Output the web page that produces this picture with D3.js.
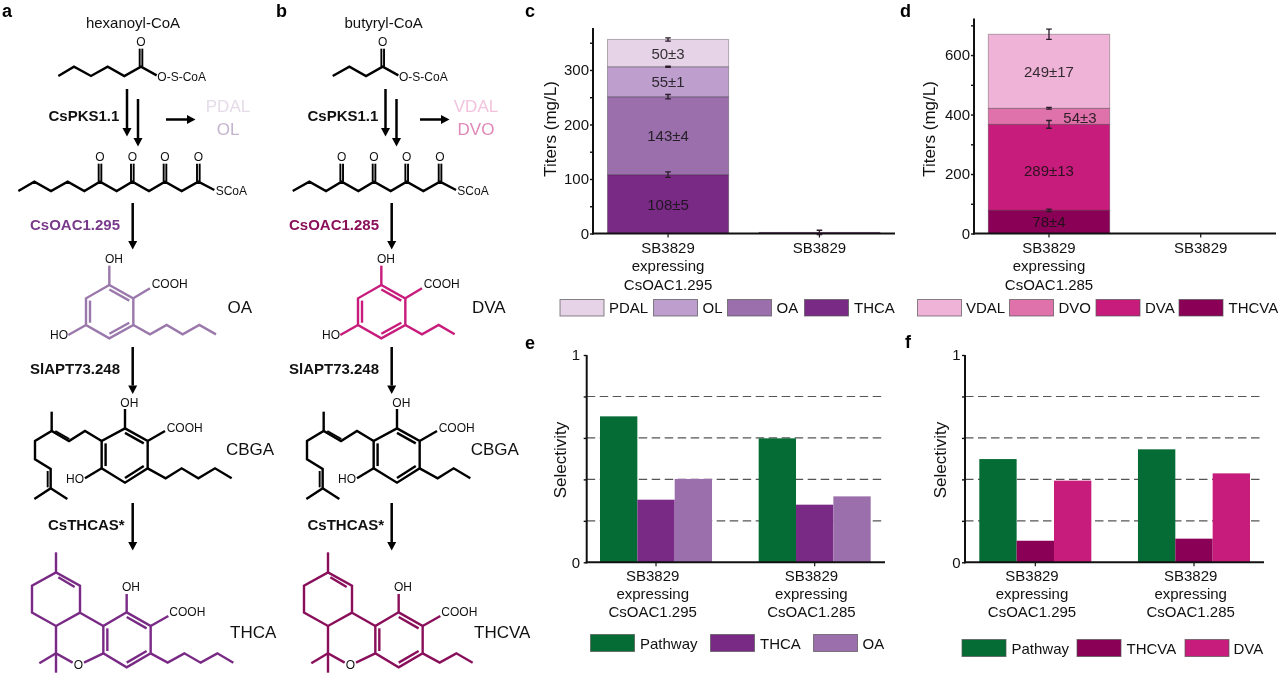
<!DOCTYPE html>
<html><head><meta charset="utf-8">
<script src="https://cdn.jsdelivr.net/npm/d3@7/dist/d3.min.js"></script>
<style>
html,body{margin:0;padding:0;background:#fff}
svg{display:block;filter:blur(0.3px)}
text{font-family:"Liberation Sans",Arial,sans-serif;fill:#111}
</style></head><body>
<svg id="fig" width="1280" height="675" viewBox="0 0 1280 675"></svg>
<script>
// ---- chart data ----
const titerStrainsC = ["SB3829 expressing CsOAC1.295", "SB3829"];
const titerStrainsD = ["SB3829 expressing CsOAC1.285", "SB3829"];
const titerKeysC = ["THCA", "OA", "OL", "PDAL"];
const titerKeysD = ["THCVA", "DVA", "DVO", "VDAL"];
const titersC = { THCA:[108,2], OA:[143,0], OL:[55,0], PDAL:[50,0] };
const errorsC = { THCA:[5,4], OA:[4,0], OL:[1,0], PDAL:[3,0] };
const titersD = { THCVA:[78,0], DVA:[289,0], DVO:[54,0], VDAL:[249,0] };
const errorsD = { THCVA:[4,0], DVA:[13,0], DVO:[3,0], VDAL:[17,0] };
const selGroups = ["SB3829 expressing CsOAC1.295", "SB3829 expressing CsOAC1.285"];
const selKeysE = ["Pathway", "THCA", "OA"];
const selKeysF = ["Pathway", "THCVA", "DVA"];
const selE = { Pathway:[0.704,0.598], THCA:[0.302,0.278], OA:[0.402,0.318] };
const selF = { Pathway:[0.498,0.545], THCVA:[0.104,0.114], DVA:[0.394,0.429] };
const legendOrderC = ["PDAL", "OL", "OA", "THCA"];
const legendOrderD = ["VDAL", "DVO", "DVA", "THCVA"];
const colours = { PDAL:"#e6d3e7", OL:"#bd9ecd", OA:"#9a6fab", THCA:"#792a85",
                  VDAL:"#f0b3d8", DVO:"#df72ab", DVA:"#c71c7b", THCVA:"#8a0056", Pathway:"#066c35" };

const svg = d3.select("#fig");
const FONT = '"Liberation Sans",Arial,sans-serif';

// ---- charts ----
function wrapLabel(s){ return s.startsWith("SB3829 expressing") ? ["SB3829","expressing",s.split(" ")[2]] : [s]; }

function axes(g, o){
  const {x, y, xRight, axisX, baseY, ticks, majors, pad, labelX, title, titleY, labelDx=0, tickYs} = o;
  g.append("g").attr("transform",`translate(${axisX},0)`)
    .call(d3.axisLeft(y).tickValues(ticks).tickSize(3).tickPadding(pad).tickFormat(d=>majors.includes(d)?d:""))
    .call(s=>s.select(".domain").remove())
    .call(s=>s.selectAll("line").attr("stroke","#111").attr("stroke-width",1.4))
    .call(s=>s.selectAll("text").attr("font-size",15).attr("font-family",FONT).attr("fill","#222"));
  g.append("g").attr("transform",`translate(0,${baseY})`)
    .call(d3.axisBottom(x).tickSize(4).tickFormat(""))
    .call(s=>s.select(".domain").remove())
    .call(s=>s.selectAll("line").attr("stroke","#111").attr("stroke-width",1.2));
  g.append("line").attr("x1",axisX).attr("x2",axisX).attr("y1",y.range()[1]).attr("y2",baseY+1)
    .attr("stroke","#111").attr("stroke-width",2);
  g.append("line").attr("x1",axisX-1).attr("x2",xRight).attr("y1",baseY).attr("y2",baseY)
    .attr("stroke","#111").attr("stroke-width",2);
  x.domain().forEach(c=>{
    wrapLabel(c).forEach((t,i)=>{
      g.append("text").attr("x",x(c)+x.bandwidth()/2+labelDx).attr("y",tickYs+i*18.3)
        .attr("text-anchor","middle").attr("font-size",15).attr("fill","#222").text(t);
    });
  });
  g.append("text").attr("transform",`translate(${labelX},${titleY}) rotate(-90)`)
    .attr("text-anchor","middle").attr("font-size",17).attr("fill","#222").text(title);
}

function legend(g, keys, boxX, textX, y0, h){
  keys.forEach((k,i)=>{
    g.append("rect").attr("x",boxX[i]).attr("y",y0).attr("width",44).attr("height",h)
      .attr("fill",colours[k]).attr("stroke","#555").attr("stroke-opacity",.7).attr("stroke-width",1);
    g.append("text").attr("x",textX[i]).attr("y",y0+h/2+5.5).attr("font-size",15).attr("fill","#222").text(k);
  });
}

function stackedPanel(o){
  const g = svg.append("g");
  const x = d3.scaleBand().domain(o.strains).range(o.xr).paddingInner(0.2).paddingOuter(0);
  const y = d3.scaleLinear().domain([0,o.yMax]).range([233.5,o.yTop]);
  const rows = o.strains.map((s,i)=>{ const r={strain:s}; o.keys.forEach(k=>r[k]=o.vals[k][i]); return r; });
  const series = d3.stack().keys(o.keys)(rows);
  series.forEach(se=>{
    g.selectAll(null).data(se).join("rect")
      .attr("x",d=>x(d.data.strain)).attr("width",x.bandwidth())
      .attr("y",d=>y(d[1])).attr("height",d=>y(d[0])-y(d[1]))
      .attr("fill",colours[se.key]).attr("stroke","#000").attr("stroke-opacity",.28).attr("stroke-width",1);
  });
  axes(g,{x,y,xRight:o.xRight,axisX:o.axisX,baseY:233.5,ticks:o.ticks,majors:o.majors,pad:o.pad,
          labelX:o.titleX,title:"Titers (mg/L)",titleY:129,tickYs:253});
  series.forEach(se=>{
    se.forEach((d,i)=>{
      const err = o.errs[se.key][i];
      const cx = x(d.data.strain)+x.bandwidth()/2;
      if(err>0){
        const y1=y(d[1]+err), y2=y(d[1]-err);
        g.append("path").attr("d",`M${cx-2.8},${y1}H${cx+2.8}M${cx},${y1}V${y2}M${cx-2.8},${y2}H${cx+2.8}`)
          .attr("fill","none").attr("stroke","#2a1a2a").attr("stroke-width",1.3);
      }
      if(d[1]-d[0]>5){
        const shift = o.labelShift[se.key]||[0,0];
        g.append("text").attr("x",cx+shift[0]).attr("y",y((d[0]+d[1])/2)+5.5+shift[1])
          .attr("text-anchor","middle").attr("font-size",15).attr("fill","#000").attr("fill-opacity",.85)
          .text(`${d[1]-d[0]}±${err}`);
      }
    });
  });
  legend(g,o.legend,o.boxX,o.textX,299.5,16.5);
}

stackedPanel({strains:titerStrainsC,keys:titerKeysC,vals:titersC,errs:errorsC,xr:[607.5,880],
  yMax:377,yTop:28,xRight:895,axisX:593,ticks:d3.range(0,351,50),majors:[0,100,200,300],pad:1,titleX:556,
  labelShift:{},legend:legendOrderC,boxX:[560,653.5,727.5,804.5],textX:[609,702.5,776.5,854]});
stackedPanel({strains:titerStrainsD,keys:titerKeysD,vals:titersD,errs:errorsD,xr:[988.3,1261.4],
  yMax:723,yTop:18.5,xRight:1276,axisX:974,ticks:d3.range(0,701,100),majors:[0,200,400,600],pad:1,titleX:935,
  labelShift:{DVO:[31,1],DVA:[0,3]},legend:legendOrderD,boxX:[917.5,1009.5,1096,1179],textX:[966,1058.5,1145,1228.5]});

function selPanel(o){
  const g = svg.append("g");
  const x = d3.scaleBand().domain(selGroups).range(o.xr).paddingInner(0.294).paddingOuter(0);
  const xi = d3.scaleBand().domain(o.keys).range([0,x.bandwidth()]);
  const y = d3.scaleLinear().domain([0,1]).range([562.3,355]);
  [0.2,0.4,0.6,0.8].forEach(v=>{
    g.append("line").attr("x1",o.axisX).attr("x2",o.xRight).attr("y1",y(v)).attr("y2",y(v))
      .attr("stroke","#555").attr("stroke-width",1.1).attr("stroke-dasharray","8.5,4.5");
  });
  o.keys.forEach(k=>{
    selGroups.forEach((c,i)=>{
      g.append("rect").attr("x",x(c)+xi(k)).attr("width",xi.bandwidth())
        .attr("y",y(o.vals[k][i])).attr("height",y(0)-y(o.vals[k][i]))
        .attr("fill",colours[k]);
    });
  });
  axes(g,{x,y,xRight:o.xRight+1,axisX:o.axisX,baseY:562.3,ticks:[0,0.2,0.4,0.6,0.8,1],majors:[0,1],pad:o.pad,
          labelX:o.titleX,title:"Selectivity",titleY:460,labelDx:-3.3,tickYs:580.5});
  legend(g,o.keys,o.boxX,o.textX,o.legY,17);
}
selPanel({keys:selKeysE,vals:selE,xr:[600,870.7],axisX:586.7,xRight:884,pad:3.5,titleX:565.5,
  boxX:[590.5,710.5,813.5],textX:[640,760,862.5],legY:634.5});
selPanel({keys:selKeysF,vals:selF,xr:[979.3,1250],axisX:965,xRight:1263,pad:1.5,titleX:946,
  boxX:[962,1077,1185],textX:[1011.5,1126.5,1233.5],legY:639.5});

// ---- reaction schemes (schematic drawing, units are 1/3 px) ----
const U = d3.scaleLinear().domain([0,3]).range([0,1]);
function polyline(g, pts, ox, oy, colour, w){
  const line = d3.line().x(p=>ox+U(p[0])).y(p=>oy+U(p[1]));
  g.append("path").attr("d",line(pts)).attr("fill","none").attr("stroke",colour)
    .attr("stroke-width",w||2.4).attr("stroke-linejoin","miter").attr("stroke-linecap","butt");
}
function label(g, t, x, y, o={}){
  g.append("text").attr("x",x).attr("y",y).attr("font-size",o.size||12)
    .attr("font-weight",o.bold?"bold":null).attr("text-anchor",o.anchor||"middle")
    .style("fill",o.fill||"#111").attr("dominant-baseline","central").text(t);
}
function arrow(g, x1, y1, x2, y2){
  // head drawn at the end of the shaft
  const dx=Math.sign(x2-x1), dy=Math.sign(y2-y1), L=8.5, H=4.5;
  g.append("line").attr("x1",x1).attr("y1",y1).attr("x2",x2-dx*L).attr("y2",y2-dy*L)
    .attr("stroke","#000").attr("stroke-width",2.5);
  const p = dx ? [[x2,y2],[x2-dx*L,y2-H],[x2-dx*L,y2+H]] : [[x2,y2],[x2-H,y2-dy*L],[x2+H,y2-dy*L]];
  g.append("polygon").attr("points",p.join(" ")).attr("fill","#000");
}
function inner(a,b,c){
  const f=.17;
  return [[a[0]+(c[0]-a[0])*f,a[1]+(c[1]-a[1])*f],[b[0]+(c[0]-b[0])*f,b[1]+(c[1]-b[1])*f]];
}
function ring(g, pts, ox, oy, colour, doubles){
  polyline(g, pts.concat([pts[0]]), ox, oy, colour);
  const c=[d3.mean(pts,p=>p[0]),d3.mean(pts,p=>p[1])];
  doubles.forEach(([i,j])=>polyline(g, inner(pts[i],pts[j],c), ox, oy, colour));
}
function carbonyl(g, cx, cy, top, ox, oy){
  polyline(g,[[cx-4,cy],[cx-4,top]],ox,oy,"#000",1.9);
  polyline(g,[[cx+4,cy],[cx+4,top]],ox,oy,"#000",1.9);
  label(g,"O",ox+U(cx),oy+U(top-19),{size:12});
}

const hexChain = [[175,228],[222,200],[273,228],[323,200],[373,228],[423,200],[470,226]];
const ketChain = [[55,573],[103,545],[153,573],[203,545],[253,573],[300,545],[350,573],[397,545],[447,573],[495,545],[545,573],[595,545],[643,570]];
const ketCarbons = [300,397,495,595];
const oaRing = [[328,855],[400,895],[400,975],[328,1015],[258,975],[258,895]];
const oaTail = [[400,975],[450,1003],[500,975],[548,1003],[598,975],[648,1003]];
const cbRing = [[375,265],[443,303],[443,385],[375,428],[305,385],[305,303]];
const cbTail = [[443,385],[497,415],[545,385],[595,415],[645,385],[695,415]];
const cbPrenyl = [[305,303],[255,273],[207,303],[155,273],[105,303],[105,358],[152,387],[152,445],[103,477]];
const thRing = [[380,817],[452,858],[452,940],[380,982],[310,940],[310,858]];
const thTail = [[452,940],[503,968],[553,940],[602,968],[652,940],[700,968]];
const thTop = [[240,818],[240,737],[168,697],[96,737],[96,818],[168,858],[240,818]];

function scheme(o){
  const g = svg.append("g");
  const sh = o.short; // shorter chains, butyryl route
  label(g,o.letter,o.letterX,10.5,{size:18,bold:true,anchor:"start",fill:"#000"});
  label(g,o.start,o.startX,22.5,{size:15});
  // starter acyl-CoA
  polyline(g, sh?hexChain.slice(2):hexChain, o.chainOx,0,"#000",2.4);
  carbonyl(g,423,200,146,o.chainOx,0);
  label(g,"O-S-CoA",o.chainOx+U(472),76.5,{anchor:"start"});
  // arrows
  arrow(g,o.arX,89,o.arX,136.5);
  arrow(g,o.arX+11,99,o.arX+11,146.5);
  arrow(g,o.sideX,119.5,o.sideX+29.5,119.5);
  label(g,"CsPKS1.1",o.pksX,115,{size:15,bold:true,anchor:"start"});
  label(g,o.side1,o.sideCx,106,{size:17,fill:o.side1Col});
  label(g,o.side2,o.sideCx,129.5,{size:17,fill:o.side2Col});
  // polyketide
  polyline(g, sh?ketChain.slice(2):ketChain, o.chainOx,0,"#000",2.4);
  ketCarbons.forEach(c=>carbonyl(g,c,545,491,o.chainOx,0));
  label(g,"SCoA",o.chainOx+U(647),190.5,{anchor:"start"});
  // step to the olivetolic acid analogue
  arrow(g,o.vx,203,o.vx,249.5);
  label(g,o.oacName,o.labX,224,{size:15,bold:true,anchor:"start",fill:o.oacCol});
  polyline(g,sh?oaTail.slice(0,4):oaTail,o.ox,0,o.c1);
  ring(g,oaRing,o.ox,0,o.c1,[[0,1],[2,3],[4,5]]);
  polyline(g,[[328,855],[328,797]],o.ox,0,o.c1);
  polyline(g,[[400,895],[450,865]],o.ox,0,o.c1);
  polyline(g,[[258,975],[205,1005]],o.ox,0,o.c1);
  label(g,"OH",o.ox+U(342),258.5);
  label(g,"COOH",o.ox+U(455),284,{anchor:"start"});
  label(g,"HO",o.ox+U(177),334.5);
  label(g,o.acidName,o.acidX,307,{size:17,anchor:"start"});
  // step to CBGA
  const oy=340;
  arrow(g,o.vx,347,o.vx,394);
  label(g,"SlAPT73.248",o.labX,368,{size:15,bold:true,anchor:"start"});
  polyline(g,sh?cbTail.slice(0,4):cbTail,o.ox,oy,"#000");
  ring(g,cbRing,o.ox,oy,"#000",[[0,1],[2,3],[4,5]]);
  polyline(g,[[375,265],[375,207]],o.ox,oy,"#000");
  polyline(g,[[443,303],[495,273]],o.ox,oy,"#000");
  polyline(g,[[305,385],[255,415]],o.ox,oy,"#000");
  polyline(g,cbPrenyl,o.ox,oy,"#000");
  polyline(g,[[155,215],[155,273]],o.ox,oy,"#000");
  polyline(g,[[152,445],[202,477]],o.ox,oy,"#000");
  polyline(g,[[166,273],[208,297]],o.ox,oy,"#000",1.9);
  polyline(g,[[143,393],[143,442]],o.ox,oy,"#000",1.9);
  label(g,"OH",o.ox+U(388),oy+62.5);
  label(g,"COOH",o.ox+U(500),oy+87.5,{anchor:"start"});
  label(g,"HO",o.ox+U(225),oy+138.5);
  label(g,"CBGA",o.cbgaX,449,{size:17,anchor:"start"});
  // step to THCA analogue
  arrow(g,o.vx,503,o.vx,550.5);
  label(g,"CsTHCAS*",o.thcLabX,524,{size:15,bold:true,anchor:"start"});
  polyline(g,sh?thTail.slice(0,4):thTail,o.ox,oy,o.c2);
  ring(g,thRing,o.ox,oy,o.c2,[[0,1],[2,3],[4,5]]);
  polyline(g,thTop,o.ox,oy,o.c2);
  polyline(g,[[175,712],[224,741]],o.ox,oy,o.c2);
  polyline(g,[[168,637],[168,697]],o.ox,oy,o.c2);
  polyline(g,[[310,858],[240,818]],o.ox,oy,o.c2);
  polyline(g,[[168,858],[168,940],[218,968]],o.ox,oy,o.c2);
  polyline(g,[[252,968],[310,940]],o.ox,oy,o.c2);
  polyline(g,[[168,940],[118,970]],o.ox,oy,o.c2);
  polyline(g,[[168,940],[168,998]],o.ox,oy,o.c2);
  polyline(g,[[380,817],[380,762]],o.ox,oy,o.c2);
  polyline(g,[[452,858],[505,828]],o.ox,oy,o.c2);
  label(g,"O",o.ox+U(235),oy+325);
  label(g,"OH",o.ox+U(393),oy+247);
  label(g,"COOH",o.ox+U(508),oy+272,{anchor:"start"});
  label(g,o.thName,o.thX,632,{size:17,anchor:"start"});
}

scheme({letter:"a",letterX:2,start:"hexanoyl-CoA",startX:133,short:false,chainOx:0,ox:0,
  arX:127,sideX:166,pksX:48.5,side1:"PDAL",side2:"OL",side1Col:"#e5dbe9",side2Col:"#c5b4cf",sideCx:228,
  vx:132.7,labX:30,oacName:"CsOAC1.295",oacCol:"#7a3a8c",c1:"#9a78ab",acidName:"OA",acidX:227.5,
  cbgaX:226,thcLabX:48,thName:"THCA",thX:230,c2:"#792a85"});
scheme({letter:"b",letterX:276,start:"butyryl-CoA",startX:383.7,short:true,chainOx:241.7,ox:272,
  arX:385.5,sideX:420,pksX:307.5,side1:"VDAL",side2:"DVO",side1Col:"#f3c3de",side2Col:"#e088b8",sideCx:476,
  vx:391.7,labX:289,oacName:"CsOAC1.285",oacCol:"#8a1059",c1:"#c71c7b",acidName:"DVA",acidX:472,
  cbgaX:470.7,thcLabX:307.5,thName:"THCVA",thX:474,c2:"#8a0f5a"});
[["c",525,10.5],["d",900,10.5],["e",525,343],["f",905,342]].forEach(([t,x,y])=>{
  label(svg,t,x,y,{size:18,bold:true,anchor:"start",fill:"#000"});
});
</script>
</body></html>
